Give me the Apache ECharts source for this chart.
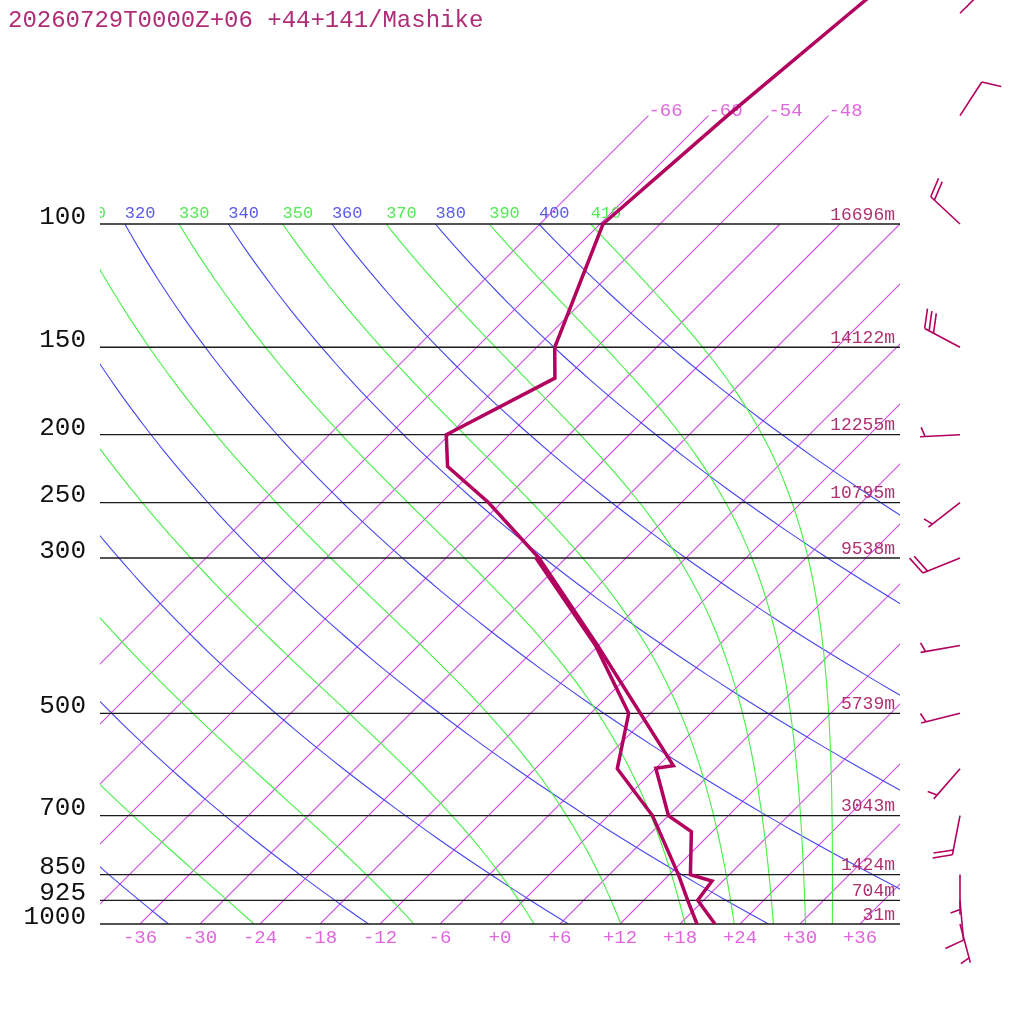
<!DOCTYPE html>
<html><head><meta charset="utf-8">
<script src="https://cdn.jsdelivr.net/npm/echarts@6/dist/echarts.min.js"></script>
<style>html,body{margin:0;padding:0;background:#fff}#c{width:1024px;height:1024px}</style>
</head><body><div id="c"></div>
<script>
// ---------------- data ----------------
const titleText = '20260729T0000Z+06 +44+141/Mashike';
const levelPressures = [1000, 925, 850, 700, 500, 300, 250, 200, 150, 100];
const levelHeights = ['31m', '704m', '1424m', '3043m', '5739m', '9538m', '10795m', '12255m', '14122m', '16696m'];
const tempPressures = [1000, 925, 868, 850, 738, 700, 599, 594, 400, 300, 250, 222, 200, 166, 150, 100, 70, 50, 30];
const tempValues = [21.5, 17.4, 16.9, 14.1, 9.9, 6.0, 0.0, 1.5, -18.1, -32.7, -43.3, -51.0, -54.3, -49.1, -52.2, -59.7, -58.1, -56.1, -53.0];
const dewPressures = [1000, 925, 850, 700, 600, 500, 400, 300];
const dewValues = [19.7, 16.4, 12.9, 4.4, -3.8, -8.2, -18.3, -33.0];
const windPressures = [1000, 925, 850, 700, 600, 500, 400, 300, 250, 200, 150, 100, 70, 50];
const windDirections = [165, 175, 180, 191, 221, 256, 260, 248, 232, 267, 298, 313, 33, 45];
const windSpeeds = [5, 10, 5, 20, 5, 5, 5, 20, 5, 5, 30, 20, 10, 10];
const isothermTemps = [-66, -60, -54, -48, -42, -36, -30, -24, -18, -12, -6, 0, 6, 12, 18, 24, 30, 36];
const upperIsothermTemps = [-66, -60, -54, -48];
const dryThetas = [240, 260, 280, 300, 320, 340, 360, 380, 400];
const moistThetaEs = [250, 270, 290, 310, 330, 350, 370, 390, 410];
const bottomTicks = [-36, -30, -24, -18, -12, -6, 0, 6, 12, 18, 24, 30, 36];

// ---------------- helpers ----------------
const SKEW = 70;                 // skew in degC per decade of pressure
const XMIN = -40, XMAX = 40;
const PBOT = 1000, PLEV_TOP = 100, PUPPER = 70;
const PTOP = 1000 / Math.pow(10, 924 / 700);
function skewX(T, p) { return T + SKEW * Math.log10(1000 / p); }
function dryT(theta, p) { return theta * Math.pow(p / 1000, 0.286) - 273.15; }
function thetaEsat(Tc, p) {
  const es = 6.112 * Math.exp(17.67 * Tc / (Tc + 243.5));
  if (es > 0.5 * p) return Infinity;
  const r = 0.622 * es / (p - es);
  const TK = Tc + 273.15;
  return TK * Math.pow(1000 / p, 0.2854 * (1 - 0.28 * r)) *
    Math.exp((3.376 / TK - 0.00254) * r * 1000 * (1 + 0.81 * r));
}
function moistT(thE, p) {
  let lo = -150, hi = 60;
  for (let i = 0; i < 60; i++) {
    const m = (lo + hi) / 2;
    if (thetaEsat(m, p) > thE) hi = m; else lo = m;
  }
  return (lo + hi) / 2;
}
const NSTEP = 90;
const sampleP = [];
for (let k = 0; k <= NSTEP; k++) sampleP.push(PBOT * Math.pow(10, -k / NSTEP));

const C_ISO = '#d44ce8', C_DRY = '#4646f4', C_MOIST = '#46f046';
const C_PROFILE = '#b2005e', C_HGT = '#b0306f', C_ISO_LBL = '#e066e0';
const MONO = '"Liberation Mono", "DejaVu Sans Mono", monospace';

const series = [];

// background curves drawn as polylines through the axes (clipped to the plot)
function curveSeries(values, color, pointsFor) {
  return {
    type: 'custom', coordinateSystem: 'cartesian2d', silent: true, animation: false, clip: true, z: 1,
    data: values.map(v => [0, PBOT, v]),
    renderItem(params, api) {
      const v = api.value(2);
      const pts = pointsFor(v).map(d => api.coord(d));
      return { type: 'polyline', shape: { points: pts }, style: { stroke: color, lineWidth: 1.1, fill: null } };
    }
  };
}
series.push(curveSeries(isothermTemps, C_ISO, T => {
  const top = upperIsothermTemps.includes(T) ? PUPPER : PLEV_TOP;
  return [[skewX(T, PBOT), PBOT], [skewX(T, top), top]];
}));
series.push(curveSeries(dryThetas, C_DRY, th => sampleP.map(p => [skewX(dryT(th, p), p), p])));
series.push(curveSeries(moistThetaEs, C_MOIST, th => sampleP.map(p => [skewX(moistT(th, p), p), p])));

// pressure levels: line, pressure label, height label
series.push({
  type: 'custom', coordinateSystem: 'cartesian2d', silent: true, animation: false, clip: false, z: 3,
  data: levelPressures.map((p, i) => [0, p, i]),
  renderItem(params, api) {
    const p = api.value(1), i = api.value(2);
    const a = api.coord([XMIN, p]), b = api.coord([XMAX, p]);
    return {
      type: 'group', children: [
        { type: 'line', shape: { x1: a[0], y1: a[1], x2: b[0], y2: b[1] }, style: { stroke: '#1a1a1a', lineWidth: 1.3 } },
        { type: 'text', x: a[0] - 14, y: a[1] - 7, style: { text: String(levelPressures[i]), textAlign: 'right', textVerticalAlign: 'middle', font: '26px ' + MONO, fill: '#111' } },
        { type: 'text', x: b[0] - 5, y: b[1] - 9, style: { text: levelHeights[i], textAlign: 'right', textVerticalAlign: 'middle', font: '18px ' + MONO, fill: C_HGT } }
      ]
    };
  }
});

// adiabat labels at 100 hPa (clipped to plot)
const adiabatLabels = [];
dryThetas.forEach(th => adiabatLabels.push([skewX(dryT(th, PLEV_TOP), PLEV_TOP), PLEV_TOP, th, 0]));
moistThetaEs.forEach(th => adiabatLabels.push([skewX(moistT(th, PLEV_TOP), PLEV_TOP), PLEV_TOP, th, 1]));
series.push({
  type: 'custom', coordinateSystem: 'cartesian2d', silent: true, animation: false, clip: true, z: 4,
  data: adiabatLabels,
  renderItem(params, api) {
    const pt = api.coord([api.value(0), api.value(1)]);
    return { type: 'text', x: pt[0], y: pt[1] - 11, style: { text: String(api.value(2)), textAlign: 'left', textVerticalAlign: 'middle', font: '17px ' + MONO, fill: api.value(3) ? '#55e855' : '#5a5af0' } };
  }
});

// upper isotherm labels
series.push({
  type: 'custom', coordinateSystem: 'cartesian2d', silent: true, animation: false, clip: false, z: 4,
  data: upperIsothermTemps.map(T => [skewX(T, PUPPER), PUPPER, T]),
  renderItem(params, api) {
    const pt = api.coord([api.value(0), api.value(1)]);
    return { type: 'text', x: pt[0], y: pt[1] - 5, style: { text: String(api.value(2)), textAlign: 'left', textVerticalAlign: 'middle', font: '19px ' + MONO, fill: C_ISO_LBL } };
  }
});

// profiles
const profileLine = {
  type: 'line', showSymbol: false, symbol: 'none', silent: true, clip: true,
  animation: false, z: 6, lineStyle: { color: C_PROFILE, width: 3.5, join: 'miter' }
};
series.push(Object.assign({}, profileLine, {
  data: dewPressures.map((p, i) => [skewX(dewValues[i], p), p])
}));
series.push(Object.assign({}, profileLine, {
  data: tempPressures.map((p, i) => [skewX(tempValues[i], p), p])
}));

// wind barbs
const STAFF = 40, FULL = 20, HALF = 10, SP = 5, BARB_ANGLE = 70 * Math.PI / 180;
series.push({
  type: 'custom', coordinateSystem: 'cartesian2d', xAxisIndex: 1, yAxisIndex: 1,
  silent: true, animation: false, clip: false, z: 6,
  data: windPressures.map((p, i) => [0, p, windDirections[i], windSpeeds[i]]),
  renderItem(params, api) {
    const o = api.coord([0, api.value(1)]);
    const rad = api.value(2) * Math.PI / 180;
    const ux = Math.sin(rad), uy = -Math.cos(rad);
    const bx = ux * Math.cos(BARB_ANGLE) - uy * Math.sin(BARB_ANGLE);
    const by = ux * Math.sin(BARB_ANGLE) + uy * Math.cos(BARB_ANGLE);
    const st = { stroke: C_PROFILE, lineWidth: 1.6 };
    const ch = [{ type: 'line', shape: { x1: o[0], y1: o[1], x2: o[0] + ux * STAFF, y2: o[1] + uy * STAFF }, style: st }];
    const s = Math.round(api.value(3) / 5) * 5;
    const nFull = Math.floor(s / 10), half = (s % 10) >= 5;
    for (let k = 0; k < nFull; k++) {
      const d = STAFF - k * SP;
      const sx = o[0] + ux * d, sy = o[1] + uy * d;
      ch.push({ type: 'line', shape: { x1: sx, y1: sy, x2: sx + bx * FULL, y2: sy + by * FULL }, style: st });
    }
    if (half) {
      const d = STAFF - Math.max(1, nFull) * SP;
      const sx = o[0] + ux * d, sy = o[1] + uy * d;
      ch.push({ type: 'line', shape: { x1: sx, y1: sy, x2: sx + bx * HALF, y2: sy + by * HALF }, style: st });
    }
    return { type: 'group', children: ch };
  }
});

const hiddenAxis = { axisLine: { show: false }, axisTick: { show: false }, axisLabel: { show: false }, splitLine: { show: false } };
const option = {
  animation: false,
  backgroundColor: '#ffffff',
  title: {
    text: titleText, left: 8, top: 9, padding: 0,
    textStyle: { fontFamily: MONO, fontSize: 24, fontWeight: 'normal', color: '#b02c76' }
  },
  grid: [
    { left: 100, right: 124, top: 0, bottom: 100 },
    { left: 940, width: 40, top: 0, bottom: 100 }
  ],
  xAxis: [
    {
      type: 'value', gridIndex: 0, min: XMIN, max: XMAX,
      axisLine: { show: false }, axisTick: { show: false }, splitLine: { show: false },
      axisLabel: {
        customValues: bottomTicks, margin: 4, color: C_ISO_LBL, fontFamily: MONO, fontSize: 19,
        formatter: v => (v >= 0 ? '+' : '') + v
      }
    },
    Object.assign({ type: 'value', gridIndex: 1, min: -1, max: 1 }, hiddenAxis)
  ],
  yAxis: [
    Object.assign({ type: 'log', logBase: 10, gridIndex: 0, inverse: true, min: PTOP, max: PBOT }, hiddenAxis),
    Object.assign({ type: 'log', logBase: 10, gridIndex: 1, inverse: true, min: PTOP, max: PBOT }, hiddenAxis)
  ],
  series
};
const chart = echarts.init(document.getElementById('c'), null, { renderer: 'canvas' });
chart.setOption(option);
</script>
</body></html>
